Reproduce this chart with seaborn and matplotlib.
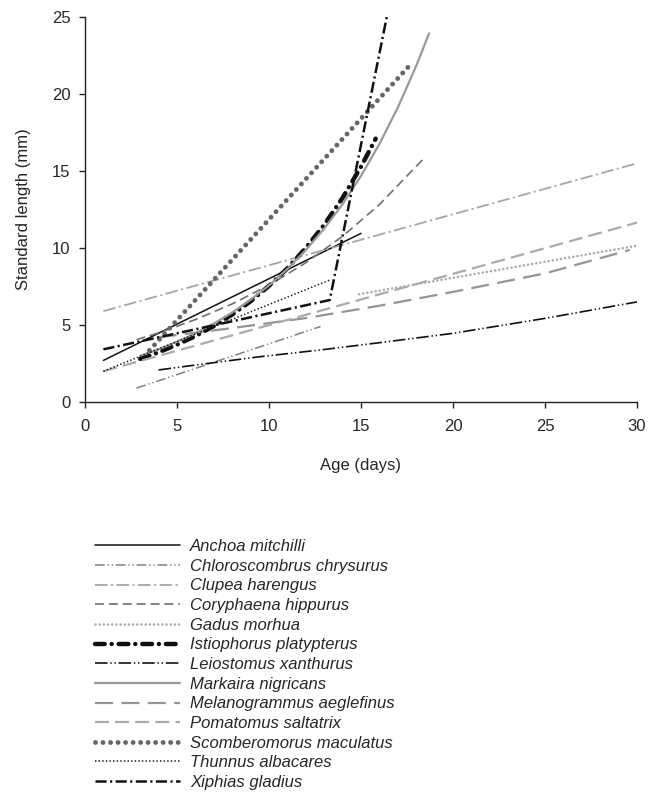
import matplotlib
matplotlib.use("Agg")
import matplotlib.pyplot as plt
import seaborn as sns

# ---- data ----
species = ["Anchoa mitchilli", "Chloroscombrus chrysurus", "Clupea harengus",
           "Coryphaena hippurus", "Gadus morhua", "Istiophorus platypterus",
           "Leiostomus xanthurus", "Markaira nigricans", "Melanogrammus aeglefinus",
           "Pomatomus saltatrix", "Scomberomorus maculatus", "Thunnus albacares",
           "Xiphias gladius"]

anchoa_x = [1, 15]
anchoa_y = [2.7, 10.95]
chloro_x = [2.8, 12.8]
chloro_y = [0.9, 4.9]
clupea_x = [1, 30]
clupea_y = [5.9, 15.5]
coryph_x = [2.8, 4, 6, 8, 10, 12, 14, 16, 18.4]
coryph_y = [4.05, 4.49, 5.35, 6.37, 7.59, 9.04, 10.76, 12.82, 15.8]
gadus_x = [14.9, 30]
gadus_y = [7.0, 10.15]
istio_x = [3, 4, 5, 6, 7, 8, 9, 10, 11, 12, 13, 14, 15, 15.8]
istio_y = [2.80, 3.23, 3.72, 4.28, 4.93, 5.68, 6.54, 7.54, 8.68, 10.0, 11.51, 13.26, 15.28, 17.1]
leio_x = [4, 6, 9.5, 12.8, 16, 20, 25, 30]
leio_y = [2.08, 2.4, 2.94, 3.38, 3.85, 4.46, 5.43, 6.5]
markaira_x = [3, 4, 5, 6, 7, 8, 9, 10, 11, 12, 13, 14, 15, 16, 17, 18, 18.7]
markaira_y = [3.0, 3.42, 3.91, 4.46, 5.09, 5.81, 6.64, 7.57, 8.64, 9.87, 11.26,
              12.85, 14.68, 16.75, 19.12, 21.82, 23.94]
melano_x = [4, 8, 12, 16, 20, 25, 29.6]
melano_y = [4.2, 4.8, 5.45, 6.25, 7.15, 8.35, 9.87]
pomato_x = [1, 30]
pomato_y = [2.0, 11.65]
scomb_x = [3.5, 17.6]
scomb_y = [3.35, 21.8]
thunnus_x = [1, 13.3]
thunnus_y = [2.0, 7.92]
xiphias_x = [1, 13.3, 16.4]
xiphias_y = [3.42, 6.62, 25.0]

x_ticks = [0, 5, 10, 15, 20, 25, 30]
y_ticks = [0, 5, 10, 15, 20, 25]

series_x = [anchoa_x, chloro_x, clupea_x, coryph_x, gadus_x, istio_x, leio_x,
            markaira_x, melano_x, pomato_x, scomb_x, thunnus_x, xiphias_x]
series_y = [anchoa_y, chloro_y, clupea_y, coryph_y, gadus_y, istio_y, leio_y,
            markaira_y, melano_y, pomato_y, scomb_y, thunnus_y, xiphias_y]

# ---- styles ----
styles = [
    dict(color="#111111", lw=1.1, linestyle="-"),
    dict(color="#808080", lw=1.1, linestyle=(0, (7, 2, 1, 2, 1, 2))),
    dict(color="#a6a6a6", lw=1.3, linestyle=(0, (9, 2.5, 1.5, 2.5))),
    dict(color="#707070", lw=1.2, linestyle=(0, (6.5, 3.5))),
    dict(color="#aaaaaa", lw=1.9, linestyle=(0, (0.01, 3.0)), dash_capstyle="round"),
    dict(color="#111111", lw=3.2, linestyle=(0, (7, 5, 0.01, 5)), dash_capstyle="round"),
    dict(color="#111111", lw=1.2, linestyle=(0, (9, 2, 1, 2, 1, 2))),
    dict(color="#999999", lw=1.6, linestyle="-"),
    dict(color="#959595", lw=1.6, linestyle=(0, (13, 6))),
    dict(color="#aaaaaa", lw=1.6, linestyle=(0, (10, 4.5))),
    dict(color="#666666", lw=3.5, linestyle=(0, (0.01, 5.4)), dash_capstyle="round"),
    dict(color="#111111", lw=1.1, linestyle=(0, (1, 1.6))),
    dict(color="#111111", lw=1.8, linestyle=(0, (8, 2.5, 1.5, 2.5))),
]

sns.set_style("ticks")
plt.rcParams["font.family"] = ["Liberation Sans", "DejaVu Sans"]
plt.rcParams["lines.scale_dashes"] = False

fig = plt.figure(figsize=(6.5, 8.01), dpi=100)
ax = fig.add_axes([85 / 650, 1 - 402 / 801, (637 - 85) / 650, (402 - 17) / 801])

for name, xs, ys, st in zip(species, series_x, series_y, styles):
    sns.lineplot(x=xs, y=ys, ax=ax, sort=False, label=name, **st)

ax.set_xlim(0, 30)
ax.set_ylim(0, 25)
ax.set_xticks(x_ticks)
ax.set_yticks(y_ticks)
ax.tick_params(axis="both", labelsize=12, length=4.5, width=1, color="#222222",
               direction="out", pad=6)
ax.tick_params(axis="x", pad=8)
for s in ["left", "bottom"]:
    ax.spines[s].set_color("#222222")
    ax.spines[s].set_linewidth(1)
sns.despine(ax=ax)
ax.set_xlabel("Age (days)", fontsize=12, labelpad=17)
ax.set_ylabel("Standard length (mm)", fontsize=12, labelpad=15)

handles, labels = ax.get_legend_handles_labels()
ax.get_legend().remove()
fig.legend(handles, labels, loc="upper left", bbox_to_anchor=(95 / 650, 1 - 539 / 801),
           frameon=False, borderpad=0, borderaxespad=0, handlelength=5.1,
           handletextpad=0.6, labelspacing=0.28,
           prop=dict(family=["Liberation Sans", "DejaVu Sans"], style="italic", size=12))

fig.savefig("out.png", dpi=100)
